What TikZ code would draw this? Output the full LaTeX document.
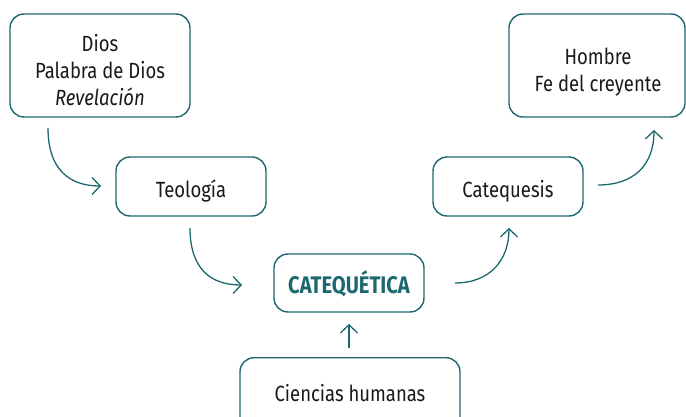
\documentclass[tikz,border=0pt]{standalone}
\usepackage{fontspec}
\setmainfont{Fira Sans}[FakeStretch=0.84]
\usetikzlibrary{arrows.meta}
\definecolor{teal1}{RGB}{28,104,110}
\definecolor{txt}{RGB}{25,25,25}
\tikzset{
  box/.style={draw=teal1, line width=1.4pt, rounded corners=14pt, inner sep=0pt},
  lbl/.style={text=txt, font=\fontsize{22}{27}\selectfont, align=center, inner sep=0pt},
  conn/.style={draw=teal1, line width=1.3pt, -{Straight Barb[length=8pt,width=17pt,line width=1.3pt]}}
}
\begin{document}
\begin{tikzpicture}[x=1pt,y=-1pt]
\useasboundingbox (0,0) rectangle (686,417);
\clip (0,0) rectangle (686,417);
\node[box, minimum width=180pt, minimum height=103pt] (dios) at (100,65.5) {};
\node[lbl] (diost) at (100,70.5) {Dios\\Palabra de Dios\\\itshape Revelación};
\node[box, minimum width=150pt, minimum height=59pt] (teo) at (191,186.5) {};
\node[lbl] (teot) at (191,191) {Teología};
\node[box, minimum width=150pt, minimum height=58pt] (cat) at (349,283) {};
\node[lbl, font=\fontsize{24}{27}\selectfont\bfseries, text=teal1] (catt) at (349,284) {CATEQUÉTICA};
\node[box, minimum width=220pt, minimum height=80pt, anchor=north] (cien) at (350,357) {};
\node[lbl] (cient) at (350,393) {Ciencias humanas};
\node[box, minimum width=150pt, minimum height=59pt] (cq) at (508,186.5) {};
\node[lbl] (cqt) at (508,191) {Catequesis};
\node[box, minimum width=176pt, minimum height=103pt] (hom) at (597,65.5) {};
\node[lbl] (homt) at (598,72) {Hombre\\Fe del creyente};
\coordinate (a1s) at (48,128);
\coordinate (a1e) at (101,186);
\coordinate (a2s) at (190,228);
\coordinate (a2e) at (242,285);
\coordinate (a3s) at (455,283);
\coordinate (a3e) at (509,228);
\coordinate (a4s) at (598,185);
\coordinate (a4e) at (654,130);
\coordinate (a5s) at (349,348);
\coordinate (a5e) at (349,324);
\draw[conn] (a1s) .. controls (48,170) and (70,186) .. (a1e);
\draw[conn] (a2s) .. controls (190,270) and (212,285) .. (a2e);
\draw[conn] (a3s) .. controls (490,283) and (509,260) .. (a3e);
\draw[conn] (a4s) .. controls (634,185) and (654,165) .. (a4e);
\draw[conn] (a5s) -- (a5e);
\end{tikzpicture}
\end{document}
